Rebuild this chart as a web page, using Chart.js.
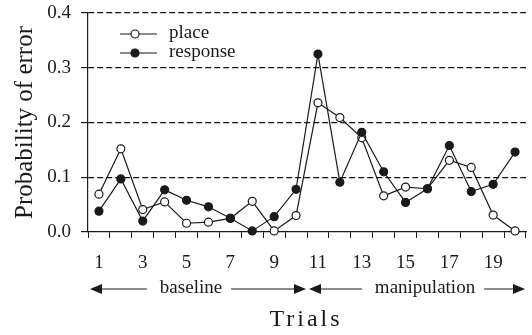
<!DOCTYPE html>
<html>
<head>
<meta charset="utf-8">
<script src="https://cdn.jsdelivr.net/npm/chart.js@4.4.1/dist/chart.umd.min.js"></script>
<style>
  html, body { margin: 0; padding: 0; background: #fff; }
  #wrap { width: 532px; height: 335px; }
</style>
</head>
<body>
<div id="wrap"><canvas id="myChart"></canvas></div>
<script>
// trial numbers along the x axis
const trials = ['1','2','3','4','5','6','7','8','9','10','11','12','13','14','15','16','17','18','19','20'];

// probability of error
const place    = [0.069, 0.152, 0.041, 0.055, 0.016, 0.018, 0.025, 0.056, 0.002, 0.030,
                  0.236, 0.209, 0.172, 0.066, 0.082, 0.079, 0.131, 0.118, 0.031, 0.002];
const response = [0.038, 0.097, 0.020, 0.077, 0.058, 0.046, 0.025, 0.002, 0.028, 0.078,
                  0.325, 0.091, 0.182, 0.110, 0.054, 0.079, 0.158, 0.074, 0.087, 0.146];

const yTicks = [0.0, 0.1, 0.2, 0.3, 0.4];

// phases shown under the axis (first and last trial of each)
const phaseNames = ['baseline', 'manipulation'];
const phaseStart = ['1', '11'];
const phaseEnd   = ['10', '20'];
const phaseShift = [-7, 8];   // text isn't quite centred in the original

const SERIF = '"Liberation Serif", "Times New Roman", Times, serif';
const INK = '#1a1a1a';

// arrows + phase names + "Trials", and the little legend box
const extras = {
  id: 'extras',
  afterDraw(chart) {
    const ctx = chart.ctx;
    const x = chart.scales.x;
    const area = chart.chartArea;
    const half = (x.getPixelForValue(1) - x.getPixelForValue(0)) / 2;

    ctx.save();
    ctx.strokeStyle = INK;
    ctx.fillStyle = INK;
    ctx.lineWidth = 1.2;
    ctx.font = '19px ' + SERIF;
    ctx.textBaseline = 'middle';
    ctx.textAlign = 'center';

    const rowY = area.bottom + 57;
    const head = (px, dir) => {
      ctx.beginPath();
      ctx.moveTo(px, rowY);
      ctx.lineTo(px - dir * 12, rowY - 5);
      ctx.lineTo(px - dir * 12, rowY + 5);
      ctx.closePath();
      ctx.fill();
    };

    phaseNames.forEach((name, i) => {
      const a = x.getPixelForValue(trials.indexOf(phaseStart[i])) - half + 2;
      const b = x.getPixelForValue(trials.indexOf(phaseEnd[i])) + half - 1;
      const mid = (a + b) / 2 + phaseShift[i];
      const w = ctx.measureText(name).width;
      ctx.fillText(name, mid, rowY - 1);
      ctx.beginPath();
      ctx.moveTo(a + 4, rowY);
      ctx.lineTo(mid - w / 2 - 13, rowY);
      ctx.moveTo(mid + w / 2 + 9, rowY);
      ctx.lineTo(b - 4, rowY);
      ctx.stroke();
      head(a, -1);
      head(b, 1);
    });

    // axis title
    ctx.font = '24px ' + SERIF;
    ctx.letterSpacing = '3px';
    ctx.fillText('Trials', (area.left + area.right) / 2 - 1, area.bottom + 88);
    ctx.letterSpacing = '0px';

    // legend
    ctx.font = '19px ' + SERIF;
    ctx.textAlign = 'left';
    chart.data.datasets.forEach((ds, i) => {
      const ly = area.top + 21 + i * 19;
      const lx = area.left + 32;
      ctx.strokeStyle = INK;
      ctx.lineWidth = 1.2;
      ctx.beginPath();
      ctx.moveTo(lx, ly);
      ctx.lineTo(lx + 37, ly);
      ctx.stroke();
      ctx.beginPath();
      ctx.arc(lx + 15, ly, 4, 0, Math.PI * 2);
      ctx.fillStyle = ds.pointBackgroundColor;
      ctx.fill();
      ctx.stroke();
      ctx.fillStyle = INK;
      ctx.fillText(ds.label, lx + 49, ly - 1);
    });
    ctx.restore();
  }
};

const ctx = document.getElementById('myChart').getContext('2d');
const myChart = new Chart(ctx, {
  type: 'line',
  data: {
    labels: trials,
    datasets: [
      {
        label: 'place',
        data: place,
        borderColor: INK,
        borderWidth: 1.2,
        pointRadius: 4,
        pointBackgroundColor: '#ffffff',
        pointBorderColor: INK,
        pointBorderWidth: 1.2,
        tension: 0,
        clip: false,
        order: 1
      },
      {
        label: 'response',
        data: response,
        borderColor: INK,
        borderWidth: 1.2,
        pointRadius: 4,
        pointBackgroundColor: INK,
        pointBorderColor: INK,
        pointBorderWidth: 1.2,
        tension: 0,
        clip: false,
        order: 0
      }
    ]
  },
  options: {
    responsive: true,
    maintainAspectRatio: false,
    animation: false,
    layout: { padding: { left: 10, right: 6, top: 13, bottom: 0 } },
    plugins: {
      legend: { display: false },
      tooltip: { enabled: false }
    },
    scales: {
      x: {
        offset: true,
        afterFit: (s) => { s.height = 103; },
        grid: {
          offset: true,
          drawOnChartArea: false,
          drawTicks: true,
          tickLength: 6,
          color: INK
        },
        border: { display: true, color: INK, width: 1.2 },
        ticks: {
          autoSkip: false,
          maxRotation: 0,
          padding: 14,
          color: INK,
          font: { family: SERIF, size: 19 },
          callback: (v, i) => (i % 2 === 0 ? trials[i] : '')
        }
      },
      y: {
        min: 0,
        max: 0.4,
        afterFit: (s) => { s.width = 78; s.paddingTop = 0; s.paddingBottom = 0; },
        afterBuildTicks: (s) => { s.ticks = yTicks.map(v => ({ value: v })); },
        grid: {
          color: (c) => (c.tick && c.tick.value === 0 ? 'rgba(0,0,0,0)' : '#111'),
          tickColor: INK,
          tickLength: 7,
          lineWidth: 1.2
        },
        border: { display: true, color: INK, width: 1.2, dash: [6, 3] },
        ticks: {
          padding: 10,
          color: INK,
          font: { family: SERIF, size: 19 },
          callback: (v) => v.toFixed(1)
        },
        title: {
          display: true,
          text: 'Probability of error',
          color: INK,
          font: { family: SERIF, size: 25 },
          padding: 0
        }
      }
    }
  },
  plugins: [extras]
});
</script>
</body>
</html>
